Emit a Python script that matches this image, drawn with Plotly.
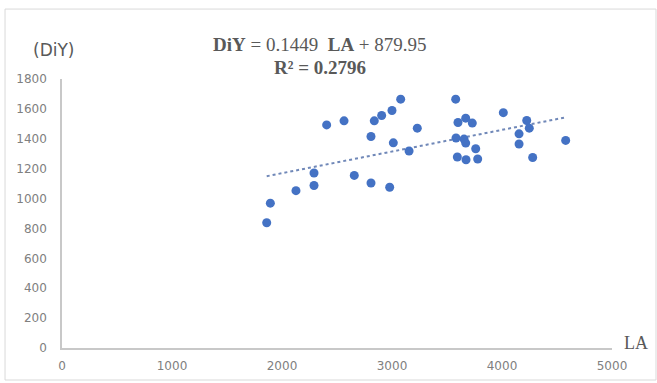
import plotly.graph_objects as go

# Leaf area (LA) and DiY observations
la = [1861, 1894, 2127, 2291, 2291, 2406, 2564, 2657, 2809, 2809, 2839, 2906,
      2979, 3000, 3012, 3079, 3155, 3230, 3579, 3582, 3594, 3600, 3655, 3670,
      3670, 3673, 3730, 3761, 3779, 4012, 4155, 4155, 4225, 4248, 4279, 4579]
diy = [838, 969, 1053, 1087, 1171, 1493, 1520, 1155, 1415, 1104, 1520, 1556,
       1076, 1589, 1373, 1665, 1318, 1471, 1665, 1405, 1278, 1509, 1398, 1538,
       1371, 1260, 1505, 1333, 1265, 1575, 1433, 1365, 1522, 1471, 1275, 1389]

# Linear trendline: DiY = slope * LA + intercept
slope = 0.1449
intercept = 879.95
r_squared = 0.2796

x_ticks = [0, 1000, 2000, 3000, 4000, 5000]
y_ticks = [0, 200, 400, 600, 800, 1000, 1200, 1400, 1600, 1800]

trend_x = [min(la), max(la)]
trend_y = [slope * v + intercept for v in trend_x]

fig = go.Figure()
fig.add_trace(go.Scatter(
    x=trend_x, y=trend_y, mode="lines",
    line=dict(color="#7088b8", width=2, dash="dot"),
    hoverinfo="skip", showlegend=False,
))
fig.add_trace(go.Scatter(
    x=la, y=diy, mode="markers",
    marker=dict(color="#4472C4", size=9, line=dict(width=0)),
    showlegend=False,
))

axis_font = dict(family="DejaVu Sans", size=12, color="#808080")

fig.update_xaxes(
    range=[0, 5000], tickvals=x_ticks, showgrid=False, zeroline=False,
    showline=True, linecolor="#c8c8c8", linewidth=1.5,
    tickfont=axis_font, ticks="", ticklabelstandoff=6, automargin=False,
)
fig.update_yaxes(
    range=[0, 1800], tickvals=y_ticks, showgrid=False, zeroline=False,
    showline=True, linecolor="#c8c8c8", linewidth=1.5,
    tickfont=axis_font, ticks="", ticklabelstandoff=11, automargin=False,
)

eq_text = (f"<b>DiY</b> = {slope:.4f}  <b>LA</b> + {intercept:.2f}")
r2_text = f"<b>R² = {r_squared:.4f}</b>"

fig.update_layout(
    width=657, height=383,
    margin=dict(l=62, r=45, t=79, b=35, autoexpand=False),
    plot_bgcolor="white", paper_bgcolor="white",
    annotations=[
        dict(text=eq_text, xref="paper", yref="paper", x=0.469, y=1.130,
             showarrow=False, xanchor="center", yanchor="middle",
             font=dict(family="Liberation Serif", size=19, color="#595959")),
        dict(text=r2_text, xref="paper", yref="paper", x=0.469, y=1.041,
             showarrow=False, xanchor="center", yanchor="middle",
             font=dict(family="Liberation Serif", size=19, color="#595959")),
        dict(text="(DiY)", xref="paper", yref="paper", x=-0.015, y=1.108,
             showarrow=False, xanchor="center", yanchor="middle",
             font=dict(family="DejaVu Sans", size=17, color="#595959")),
        dict(text="LA", xref="paper", yref="paper", x=1.044, y=0.019,
             showarrow=False, xanchor="center", yanchor="middle",
             font=dict(family="Liberation Serif", size=18, color="#595959")),
    ],
    shapes=[
        dict(type="rect", xref="paper", yref="paper",
             x0=-0.1036, x1=1.08, y0=-0.119, y1=1.26,
             line=dict(color="#d9d9d9", width=1), layer="below"),
    ],
)

fig.write_html("out.html")
